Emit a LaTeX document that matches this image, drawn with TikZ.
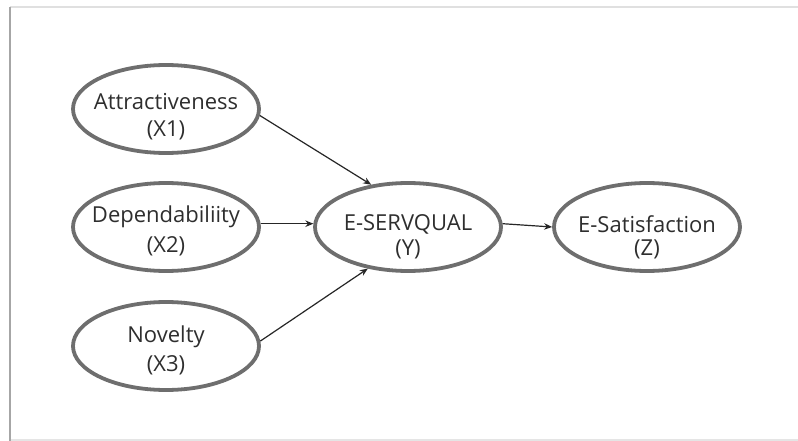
\documentclass[tikz,border=0pt]{standalone}
\usepackage{fontspec}
\setmainfont{Open Sans}
\usetikzlibrary{arrows.meta,shapes.geometric}
\definecolor{ringgray}{HTML}{6E6E6E}
\definecolor{txtgray}{HTML}{2E2E2E}
\tikzset{
  construct/.style={ellipse, draw=ringgray, line width=3.8pt, minimum width=186pt, minimum height=88pt, inner sep=0pt},
  caption/.style={anchor=base, inner sep=0pt, font=\fontsize{22}{25}\selectfont, text=txtgray},
  link/.style={draw=black!85, line width=1.2pt, -{Stealth[length=8pt,width=6.5pt]}}
}
\newcommand{\twolines}[3]{\begin{tabular}[t]{@{}c@{}}#1\\[#3]#2\end{tabular}}
\begin{document}
\begin{tikzpicture}[x=1pt,y=-1pt]
\useasboundingbox (0,0) rectangle (798,441);
\fill[white] (0,0) rectangle (798,441);
% frame
\draw[black!12, line width=1.5pt] (10,7) -- (798,7);
\draw[black!10, line width=1.5pt] (10,440) -- (798,440);
\draw[black!35, line width=2.5pt] (10,7) -- (10,441);
% ellipses
\node[construct] (x1) at (166,109) {};
\node[construct] (x2) at (166,227) {};
\node[construct] (x3) at (166,346) {};
\node[construct] (y) at (408,227) {};
\node[construct] (z) at (647,227) {};
% texts
\node[caption, yshift=-1pt] (x1t) at (x1.center) {\twolines{Attractiveness}{(X1)}{2pt}};
\node[caption, yshift=5pt] (x2t) at (x2.center) {\twolines{Dependabiliity}{(X2)}{5pt}};
\node[caption, yshift=4pt] (x3t) at (x3.center) {\twolines{Novelty}{(X3)}{4pt}};
\node[caption, yshift=-3pt] (yt) at (y.center) {\twolines{E-SERVQUAL}{(Y)}{0pt}};
\node[caption, yshift=-5pt] (zt) at (z.center) {\twolines{E-Satisfaction}{(Z)}{-1pt}};
% connectors
\draw[link] (x1.-4) -- (y.131);
\draw[link] (x2.2) -- (y.178);
\draw[link] (x3.3) -- (y.-134);
\draw[link] (y.2) -- (z.180);
\end{tikzpicture}
\end{document}
